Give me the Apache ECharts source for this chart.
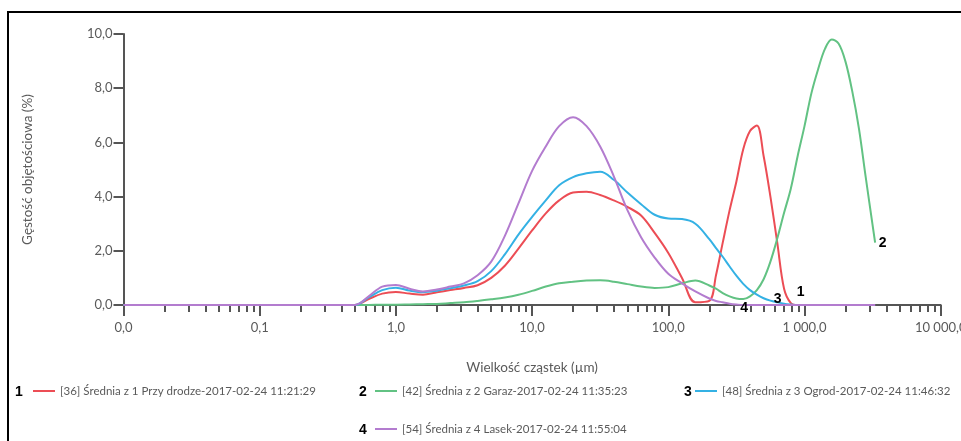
<!DOCTYPE html>
<html>
<head>
<meta charset="utf-8">
<script src="https://cdn.jsdelivr.net/npm/echarts@6/dist/echarts.min.js"></script>
<style>
html, body { margin: 0; background: #fff; }
#chart { width: 961px; height: 441px; }
</style>
</head>
<body>
<div id="chart"></div>
<script>
// axis ticks
const decades = [0.01, 0.1, 1, 10, 100, 1000, 10000];

// series names and colours
const names = [
    '[36] Średnia z 1 Przy drodze-2017-02-24 11:21:29',
    '[42] Średnia z 2 Garaz-2017-02-24 11:35:23',
    '[48] Średnia z 3 Ogrod-2017-02-24 11:46:32',
    '[54] Średnia z 4 Lasek-2017-02-24 11:55:04'
];
const colors = ['#ec4d55', '#62c283', '#34b1e4', '#b37ccf'];

// particle sizes (µm), shared by all series
const sizes = [0.01, 0.5, 0.631, 0.794, 1, 1.26, 1.58, 2, 2.51, 3.16, 3.98, 5.01, 6.31, 7.94,
    10, 12.6, 15.8, 20, 25.1, 31.6, 39.8, 50.1, 63.1, 79.4, 100, 126, 158,
    200, 224, 251, 282, 316, 355, 398, 447, 501, 562, 631, 708, 794, 891,
    1000, 1122, 1259, 1413, 1585, 1778, 1995, 2239, 2512, 2818, 3300];

// volume density (%)
const przyDrodze = [0, 0, 0.22, 0.42, 0.48, 0.42, 0.38, 0.47, 0.55, 0.63, 0.73, 1.0, 1.45, 2.08,
    2.75, 3.38, 3.86, 4.15, 4.18, 4.06, 3.86, 3.62, 3.3, 2.66, 1.92, 1.0, 0.1,
    0.15, 1.1, 2.3, 3.5, 4.55, 5.75, 6.42, 6.62, 5.5, 4.0, 2.3, 0.6, 0.07, 0,
    0, 0, 0, 0, 0, 0, 0, 0, 0, 0, 0];
const garaz = [0, 0, 0, 0.01, 0.01, 0.02, 0.03, 0.04, 0.07, 0.1, 0.15, 0.21, 0.28, 0.38,
    0.52, 0.68, 0.8, 0.86, 0.9, 0.91, 0.86, 0.77, 0.68, 0.63, 0.66, 0.8, 0.9,
    0.72, 0.6, 0.44, 0.32, 0.24, 0.22, 0.32, 0.55, 0.95, 1.6, 2.45, 3.4, 4.3, 5.5,
    6.6, 7.8, 8.7, 9.45, 9.8, 9.65, 9.0, 7.9, 6.5, 4.7, 2.3];
const ogrod = [0, 0, 0.28, 0.55, 0.64, 0.53, 0.47, 0.53, 0.62, 0.72, 0.88, 1.25, 1.87, 2.6,
    3.25, 3.86, 4.42, 4.72, 4.86, 4.92, 4.62, 4.15, 3.72, 3.33, 3.19, 3.17, 3.0,
    2.43, 2.1, 1.78, 1.42, 1.08, 0.78, 0.55, 0.38, 0.25, 0.16, 0.1, 0.05, 0.02, 0,
    0, 0, 0, 0, 0, 0, 0, 0, 0, 0, 0];
const lasek = [0, 0, 0.32, 0.68, 0.74, 0.6, 0.5, 0.57, 0.68, 0.8, 1.1, 1.6, 2.55, 3.75,
    4.95, 5.85, 6.6, 6.93, 6.6, 5.85, 4.75, 3.5, 2.5, 1.75, 1.15, 0.8, 0.5,
    0.24, 0.15, 0.1, 0.05, 0.02, 0, 0, 0, 0, 0, 0, 0, 0, 0,
    0, 0, 0, 0, 0, 0, 0, 0, 0, 0, 0];

// curve markers: number, size, density
const curveLabels = [['1', 938, 0.49], ['2', 3750, 2.3], ['3', 636, 0.21], ['4', 360, -0.12]];

// legend layout
const legendLeft = [33, 375, 695, 375];
const legendTop = [385, 385, 385, 423];
const numberX = [19, 363, 688, 363];
const numberY = [392, 392, 392, 430];

const values = [przyDrodze, garaz, ogrod, lasek];

const minorTicks = [];
decades.slice(0, -1).forEach(d => {
    for (let k = 2; k <= 9; k++) minorTicks.push(+(d * k).toPrecision(3));
});

function fmt(v) {
    const s = Number(v).toFixed(1).replace('.', ',');
    const parts = s.split(',');
    parts[0] = parts[0].replace(/\B(?=(\d{3})+(?!\d))/g, ' ');
    return parts.join(',');
}

const font = 'Lato';
const grey = '#5a5a5a';

let myChart = echarts.init(document.getElementById('chart'));
const option = {
    animation: false,
    grid: { left: 123.5, right: 20.3, top: 34, bottom: 136, outerBoundsMode: 'none', containLabel: false },
    xAxis: [
        {
            type: 'log',
            logBase: 10,
            min: 0.01,
            max: 10000,
            name: 'Wielkość cząstek (µm)',
            nameLocation: 'middle',
            nameGap: 56,
            nameTextStyle: { color: grey, fontSize: 13.5, fontFamily: font },
            axisLine: { lineStyle: { color: '#555', width: 2 } },
            axisTick: { customValues: decades, length: 11, lineStyle: { color: '#555', width: 2 } },
            axisLabel: { customValues: decades, formatter: fmt, margin: 16, color: grey, fontSize: 13, fontFamily: font },
            splitLine: { show: false }
        },
        {
            type: 'log',
            logBase: 10,
            min: 0.01,
            max: 10000,
            position: 'bottom',
            axisLine: { show: false },
            axisTick: { customValues: minorTicks, length: 7, lineStyle: { color: '#555', width: 2 } },
            axisLabel: { show: false },
            splitLine: { show: false }
        }
    ],
    yAxis: {
        type: 'value',
        min: 0,
        max: 10,
        interval: 2,
        name: 'Gęstość objętościowa (%)',
        nameLocation: 'middle',
        nameGap: 89,
        nameTextStyle: { color: grey, fontSize: 13.5, fontFamily: font },
        axisLine: { show: true, lineStyle: { color: '#555', width: 2 } },
        axisTick: { show: true, length: 10, lineStyle: { color: '#555', width: 2 } },
        axisLabel: { formatter: fmt, margin: 11, color: grey, fontSize: 13, fontFamily: font },
        splitLine: { show: false }
    },
    legend: names.map((n, i) => ({
        data: [n],
        left: legendLeft[i],
        top: legendTop[i],
        padding: 0,
        icon: 'rect',
        itemWidth: 22,
        itemHeight: 2,
        selectedMode: false,
        textStyle: { color: grey, fontSize: 11.5, fontFamily: font }
    })),
    series: names.map((n, i) => ({
        name: n,
        type: 'line',
        smooth: 0.35,
        showSymbol: false,
        symbol: 'none',
        color: colors[i],
        lineStyle: { width: 2, color: colors[i] },
        data: sizes.map((x, j) => [x, values[i][j]])
    }))
};
myChart.setOption(option);

const graphics = [{
    type: 'rect',
    shape: { x: 8, y: 12, width: 1000, height: 1000 },
    style: { fill: 'none', stroke: '#000', lineWidth: 2 },
    silent: true
}];
names.forEach((n, i) => {
    graphics.push({
        type: 'text',
        x: numberX[i],
        y: numberY[i],
        style: { text: String(i + 1), font: 'bold 14px "Liberation Sans"', fill: '#000', align: 'center', verticalAlign: 'middle' }
    });
});
curveLabels.forEach(([t, x, y]) => {
    const p = myChart.convertToPixel({ xAxisIndex: 0, yAxisIndex: 0 }, [x, y]);
    graphics.push({
        type: 'text',
        x: p[0],
        y: p[1],
        z: 10,
        style: { text: t, font: 'bold 14px "Liberation Sans"', fill: '#000', align: 'center', verticalAlign: 'middle' }
    });
});
myChart.setOption({ graphic: graphics });
</script>
</body>
</html>
